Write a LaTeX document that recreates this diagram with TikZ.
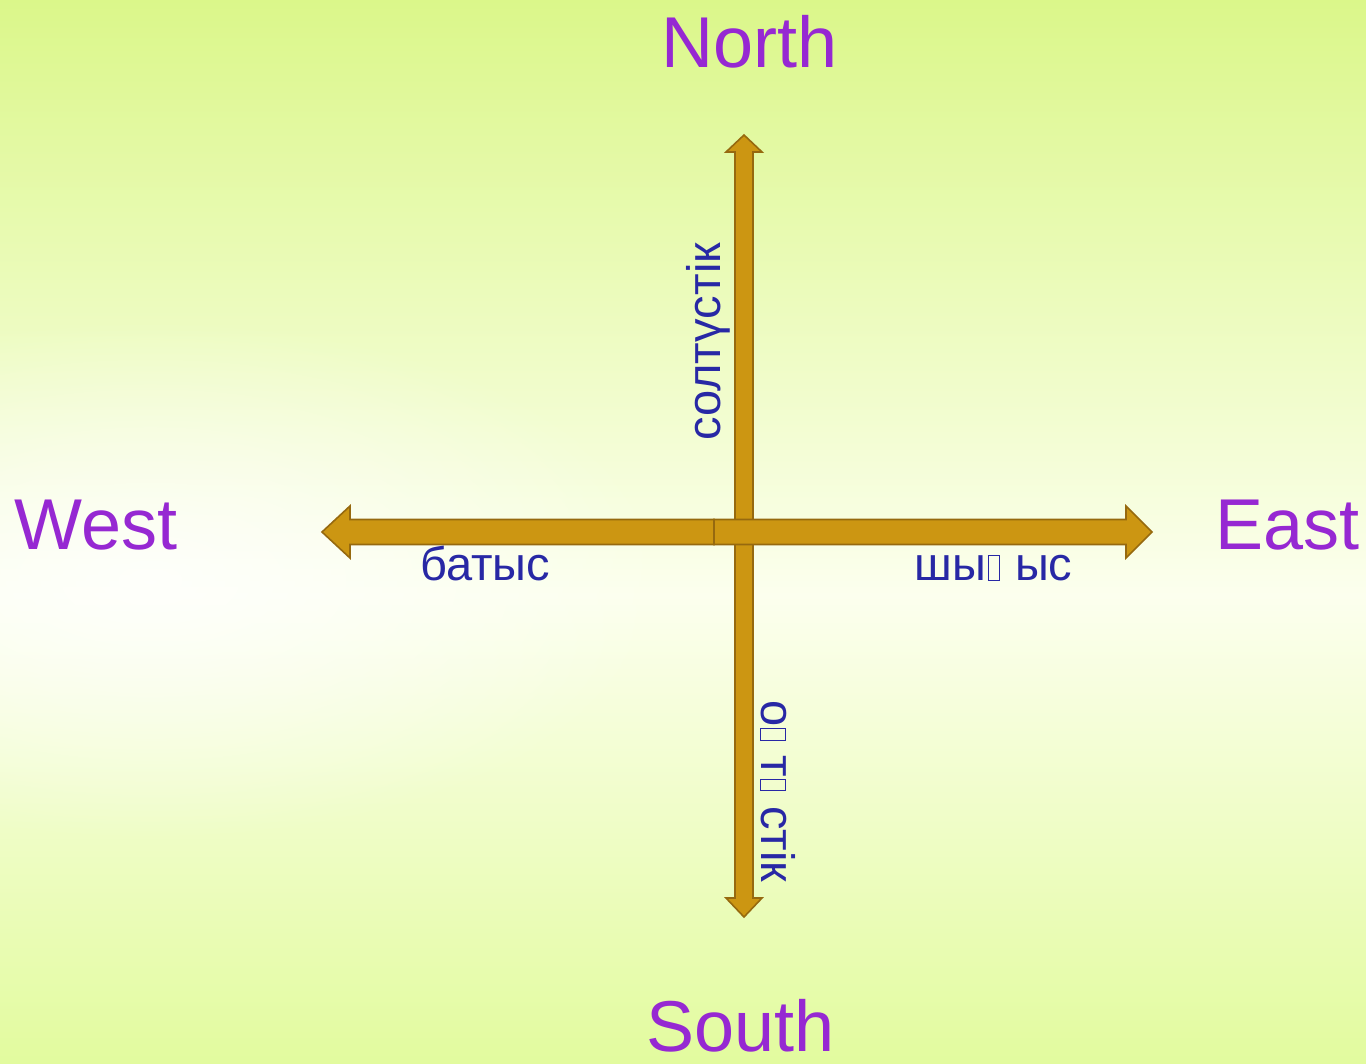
\documentclass[tikz,border=0pt]{standalone}
\usepackage{fontspec}
\setmainfont{Liberation Sans}
\usetikzlibrary{fadings,calc}
\definecolor{topc}{RGB}{219,247,138}
\definecolor{midc}{RGB}{252,255,238}
\definecolor{botc}{RGB}{226,251,158}
\definecolor{arrowfill}{RGB}{204,150,18}
\definecolor{arrowedge}{RGB}{150,105,15}
\definecolor{dirpurple}{RGB}{150,40,210}
\definecolor{kzblue}{RGB}{40,40,165}
\pgfdeclareverticalshading{bgshade}{100bp}{color(0bp)=(botc); color(25bp)=(botc); color(47bp)=(midc); color(75bp)=(topc); color(100bp)=(topc)}
\tikzfading[name=glowfade, inner color=transparent!0, outer color=transparent!100]
\newcommand{\missglyph}{\kern0.04em{\fboxsep=0pt\fboxrule=0.5pt\fbox{\rule{0pt}{0.52em}\hspace{0.22em}}}\kern0.04em}
\tikzset{
  dirlabel/.style={font=\fontsize{36}{40}\selectfont, text=dirpurple, inner sep=0pt},
  kzlabel/.style={font=\fontsize{23.5}{26}\selectfont, text=kzblue, inner sep=0pt},
  arrowshape/.style={fill=arrowfill, draw=arrowedge, line width=0.8pt, line join=miter},
}
\begin{document}
\begin{tikzpicture}[x=0.5pt,y=-0.5pt]
\useasboundingbox (0,0) rectangle (1366,1064);
\shade[shading=bgshade] (0,0) rectangle (1366,1064);
\fill[white, path fading=glowfade, opacity=0.8] (150,580) ellipse (520 and 260);

\coordinate (C) at (744,532);
\coordinate (J) at (714,532);
\coordinate (Ntip) at (744,135);
\coordinate (Stip) at (744,917);
\coordinate (Wtip) at (322,532);
\coordinate (Etip) at (1152,532);

% vertical arrows (north and south)
\draw[arrowshape] ($(C)+(-9,0)$) -- ($(Ntip)+(-9,17)$) -- ($(Ntip)+(-18,17)$) -- (Ntip)
  -- ($(Ntip)+(18,17)$) -- ($(Ntip)+(9,17)$) -- ($(C)+(9,0)$)
  -- ($(Stip)+(9,-19)$) -- ($(Stip)+(18,-19)$) -- (Stip)
  -- ($(Stip)+(-18,-19)$) -- ($(Stip)+(-9,-19)$) -- cycle;

% horizontal arrows (west and east)
\draw[arrowshape] ($(J)+(0,-12.5)$) -- ($(Wtip)+(28,-12.5)$) -- ($(Wtip)+(28,-26)$) -- (Wtip)
  -- ($(Wtip)+(28,26)$) -- ($(Wtip)+(28,12.5)$) -- ($(J)+(0,12.5)$) -- cycle;
\draw[arrowshape] ($(J)+(0,-12.5)$) -- ($(Etip)+(-26,-12.5)$) -- ($(Etip)+(-26,-26)$) -- (Etip)
  -- ($(Etip)+(-26,26)$) -- ($(Etip)+(-26,12.5)$) -- ($(J)+(0,12.5)$) -- cycle;

% direction names
\node[dirlabel, anchor=base west] (north) at (661,68) {North};
\node[dirlabel, anchor=base west] (west) at (14,549) {West};
\node[dirlabel, anchor=base west] (east) at (1215,549) {East};
\node[dirlabel, anchor=base west] (south) at (646,1051) {South};

% Kazakh labels
\node[kzlabel, anchor=base west] (batys) at (420,580) {батыс};
\node[kzlabel, anchor=base west] (shygys) at (914,580) {шы\missglyph\ ыс};
\node[kzlabel, anchor=base west, rotate=90] (soltustik) at (720,441) {солтүстік};
\node[kzlabel, anchor=base west, rotate=-90] (ontustik) at (761,700) {о\missglyph\ т\missglyph\ стік};
\end{tikzpicture}
\end{document}
